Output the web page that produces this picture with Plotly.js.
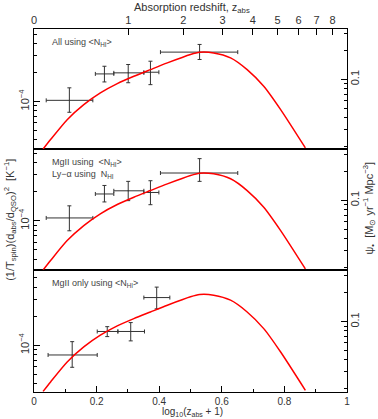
<!DOCTYPE html>
<html>
<head>
<meta charset="utf-8">
<script src="https://cdn.plot.ly/plotly-3.0.1.min.js"></script>
<style>
  html, body { margin: 0; padding: 0; background: #fff; }
  #chart { width: 378px; height: 419px; }
</style>
</head>
<body>
<div id="chart"></div>
<script>
// log10(z_abs + 1) bins
const binX = [0.113, 0.225, 0.301, 0.372, 0.529];
const binLo = [0.039, 0.196, 0.255, 0.351, 0.404];
const binHi = [0.188, 0.255, 0.351, 0.399, 0.651];

// All using <N_HI>
const allVal = [1.03e-4, 1.94e-4, 1.99e-4, 2.02e-4, 3.27e-4];
const allLo = [7.74e-5, 1.60e-4, 1.57e-4, 1.50e-4, 2.74e-4];
const allHi = [1.39e-4, 2.33e-4, 2.43e-4, 2.63e-4, 3.93e-4];

// MgII using <N_HI>, Ly-a using N_HI
const mixVal = [1.07e-4, 1.90e-4, 2.05e-4, 1.97e-4, 3.14e-4];
const mixLo = [7.87e-5, 1.57e-4, 1.62e-4, 1.47e-4, 2.57e-4];
const mixHi = [1.43e-4, 2.33e-4, 2.57e-4, 2.61e-4, 4.43e-4];

// MgII only using <N_HI>
const mgX = [0.122, 0.234, 0.309, 0.392];
const mgXLo = [0.045, 0.202, 0.268, 0.351];
const mgXHi = [0.202, 0.268, 0.353, 0.434];
const mgVal = [7.92e-5, 1.39e-4, 1.39e-4, 3.13e-4];
const mgLo = [5.90e-5, 1.23e-4, 1.11e-4, 2.39e-4];
const mgHi = [1.09e-4, 1.56e-4, 1.72e-4, 4.02e-4];

// star formation history, psi_* [Msun/yr/Mpc^3]
const sfhX = [0.029, 0.053, 0.106, 0.159, 0.212, 0.266, 0.319, 0.372, 0.426, 0.500, 0.529, 0.574, 0.628, 0.681, 0.734, 0.788, 0.867];
const sfhPsi = [0.0188, 0.0236, 0.0380, 0.0545, 0.0722, 0.0902, 0.1074, 0.126, 0.148, 0.181, 0.191, 0.188, 0.167, 0.126, 0.0845, 0.0483, 0.0193];

// top axis: redshift ticks
const zTicks = [0, 1, 2, 3, 4, 5, 6, 7, 8];

const ink = '#333';
const font = { family: 'Liberation Sans, Arial, sans-serif', size: 11, color: ink };
const noteFont = { family: font.family, size: 9, color: '#444' };

function errTrace(x, xlo, xhi, v, lo, hi, xa, ya) {
  return {
    x: x, y: v, xaxis: xa, yaxis: ya,
    type: 'scatter', mode: 'markers',
    marker: { size: 1, color: ink },
    error_x: { type: 'data', symmetric: false,
      array: xhi.map((h, i) => h - x[i]), arrayminus: xlo.map((l, i) => x[i] - l),
      color: ink, thickness: 1, width: 2 },
    error_y: { type: 'data', symmetric: false,
      array: hi.map((h, i) => h - v[i]), arrayminus: lo.map((l, i) => v[i] - l),
      color: ink, thickness: 1, width: 2 },
    showlegend: false, hoverinfo: 'skip'
  };
}

function sfhTrace(xa, ya) {
  return {
    x: sfhX, y: sfhPsi, xaxis: xa, yaxis: ya,
    type: 'scatter', mode: 'lines',
    line: { color: '#ff0000', width: 1.5, shape: 'spline', smoothing: 0.7 },
    showlegend: false, hoverinfo: 'skip'
  };
}

const traces = [
  sfhTrace('x3', 'y6'), sfhTrace('x2', 'y5'), sfhTrace('x', 'y4'),
  errTrace(binX, binLo, binHi, allVal, allLo, allHi, 'x3', 'y3'),
  errTrace(binX, binLo, binHi, mixVal, mixLo, mixHi, 'x2', 'y2'),
  errTrace(mgX, mgXLo, mgXHi, mgVal, mgLo, mgHi, 'x', 'y')
];

const leftMinor = [2e-5, 3e-5, 4e-5, 5e-5, 6e-5, 7e-5, 8e-5, 9e-5, 2e-4, 3e-4, 4e-4, 5e-4, 6e-4, 7e-4, 8e-4, 9e-4];
const rightMinor = [0.02, 0.03, 0.04, 0.05, 0.06, 0.07, 0.08, 0.09, 0.2, 0.3, 0.4];

function leftAxis(domain, range) {
  return {
    domain: domain, type: 'log', range: range, anchor: 'x',
    showline: true, linecolor: '#000', linewidth: 1, mirror: true,
    ticks: 'inside', ticklen: 6, tickwidth: 1, tickcolor: '#000',
    tickmode: 'array', tickvals: [1e-4], ticktext: ['10<sup>\u22124</sup>'],
    tickangle: -90, tickfont: font,
    minor: { tickmode: 'array', tickvals: leftMinor, ticks: 'inside', ticklen: 3, tickcolor: '#000' },
    showgrid: false, zeroline: false, fixedrange: true
  };
}
function rightAxis(over, range) {
  return {
    overlaying: over, side: 'right', type: 'log', range: range, anchor: 'x',
    showline: false,
    ticks: 'inside', ticklen: 6, tickwidth: 1, tickcolor: '#000',
    tickmode: 'array', tickvals: [0.1], ticktext: ['0.1'],
    tickangle: -90, tickfont: font,
    minor: { tickmode: 'array', tickvals: rightMinor, ticks: 'inside', ticklen: 3, tickcolor: '#000' },
    showgrid: false, zeroline: false, fixedrange: true
  };
}

const b1 = 0.3366, b2 = 0.669;

const layout = {
  width: 378, height: 419,
  margin: { l: 34, r: 31, t: 29, b: 27 },
  paper_bgcolor: '#fff', plot_bgcolor: '#fff',
  font: font,
  showlegend: false,
  xaxis: {
    anchor: 'y', range: [0, 1],
    showline: true, linecolor: '#000', linewidth: 1, mirror: true,
    ticks: 'inside', ticklen: 6, tickcolor: '#000',
    tickmode: 'array', tickvals: [0, 0.2, 0.4, 0.6, 0.8, 1], ticktext: ['0', '0.2', '0.4', '0.6', '0.8', '1'],
    minor: { tickmode: 'array', tickvals: [0.1, 0.3, 0.5, 0.7, 0.9], ticks: 'inside', ticklen: 3, tickcolor: '#000' },
    tickfont: { family: font.family, size: 10, color: ink },
    showgrid: false, zeroline: false, fixedrange: true
  },
  xaxis2: {
    anchor: 'y2', matches: 'x', range: [0, 1],
    showline: true, linecolor: '#000', linewidth: 1, mirror: true,
    ticks: '', showticklabels: false, showgrid: false, zeroline: false, fixedrange: true
  },
  xaxis3: {
    anchor: 'y3', matches: 'x', range: [0, 1], side: 'top',
    showline: true, linecolor: '#000', linewidth: 1, mirror: true,
    ticks: 'inside', ticklen: 6, tickcolor: '#000',
    tickmode: 'array', tickvals: zTicks.map(z => Math.log10(z + 1)), ticktext: zTicks.map(String),
    tickfont: font, showgrid: false, zeroline: false, fixedrange: true
  },
  yaxis: leftAxis([0, b1], [-4.486, -3.216]),
  yaxis2: leftAxis([b1, b2], [-4.510, -3.255]),
  yaxis3: leftAxis([b2, 1], [-4.495, -3.245]),
  yaxis4: rightAxis('y', [-1.732, -0.4615]),
  yaxis5: rightAxis('y2', [-1.724, -0.469]),
  yaxis6: rightAxis('y3', [-1.727, -0.477]),
  annotations: [
    { text: 'Absorption redshift, z<sub>abs</sub>', xref: 'paper', yref: 'paper',
      x: 0.505, y: 1.058, xanchor: 'center', yanchor: 'middle', showarrow: false, font: font },
    { text: 'log<sub>10</sub>(z<sub>abs</sub> + 1)', xref: 'paper', yref: 'paper',
      x: 0.505, y: -0.0735, xanchor: 'center', yanchor: 'bottom', borderpad: 0, showarrow: false,
      font: { family: font.family, size: 10, color: ink } },
    { text: '(1/T<sub>spin</sub>)(d<sub>abs</sub>/d<sub>QSO</sub>)<sup>2</sup>  [K<sup>\u22121</sup>]',
      xref: 'paper', yref: 'paper', x: -0.077, y: 0.474, textangle: -90,
      xanchor: 'center', yanchor: 'middle', showarrow: false, font: font },
    { text: '\u03c8<sub>\u2022</sub>  [M<sub>\u2299</sub> yr<sup>\u22121</sup> Mpc<sup>\u22123</sup>]',
      xref: 'paper', yref: 'paper', x: 1.07, y: 0.508, textangle: -90,
      xanchor: 'center', yanchor: 'middle', showarrow: false, font: font },
    { text: 'All using &lt;N<sub>HI</sub>&gt;', xref: 'paper', yref: 'paper',
      x: 0.05, y: 0.963, xanchor: 'left', yanchor: 'middle', showarrow: false, font: noteFont },
    { text: 'MgII using  &lt;N<sub>HI</sub>&gt;', xref: 'paper', yref: 'paper',
      x: 0.05, y: 0.632, xanchor: 'left', yanchor: 'middle', showarrow: false, font: noteFont },
    { text: 'Ly\u2212\u03b1 using  N<sub>HI</sub>', xref: 'paper', yref: 'paper',
      x: 0.05, y: 0.598, xanchor: 'left', yanchor: 'middle', showarrow: false, font: noteFont },
    { text: 'MgII only using &lt;N<sub>HI</sub>&gt;', xref: 'paper', yref: 'paper',
      x: 0.05, y: 0.299, xanchor: 'left', yanchor: 'middle', showarrow: false, font: noteFont }
  ]
};

Plotly.newPlot('chart', traces, layout, { displayModeBar: false, staticPlot: true });
</script>
</body>
</html>
